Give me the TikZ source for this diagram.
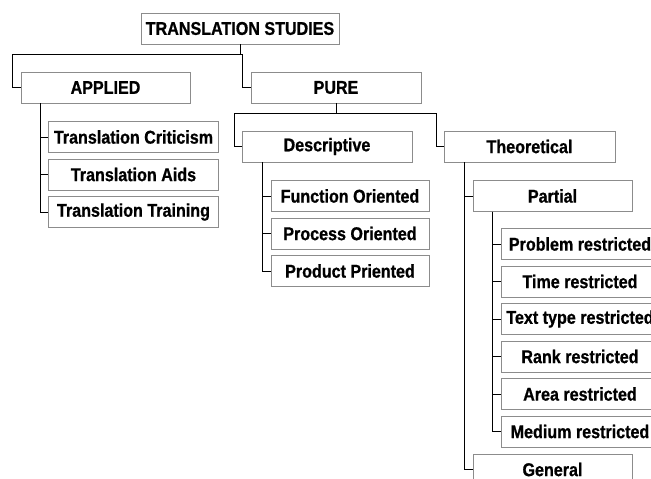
\documentclass[tikz,border=0pt]{standalone}
\usepackage{fontspec}
\setmainfont{Liberation Sans}
\newfontfamily\boxfont{Liberation Sans}[FakeStretch=0.87, BoldFeatures={FakeBold=0.8}]
\usepackage{tikz}
\definecolor{boxgray}{RGB}{140,140,140}

\begin{document}
\begin{tikzpicture}
    [x=1pt, y=-1pt,
     tree box/.style={draw=boxgray, line width=0.9pt, fill=white, inner sep=0pt,
       minimum height=31pt, font=\boxfont\fontsize{18.5}{20}\selectfont\bfseries},
     tree line/.style={draw=black, line width=0.8pt}]
    \useasboundingbox[clip] (0, 0) rectangle (651, 479);
    \node[tree box, minimum width=198pt] (ts) at (240, 28.5) {TRANSLATION STUDIES};
    \node[tree box, minimum width=169pt] (applied) at (105.5, 87.5) {APPLIED};
    \node[tree box, minimum width=170pt] (pure) at (336, 87.5) {PURE};
    \node[tree box, minimum width=170pt] (crit) at (133.5, 137) {Translation Criticism};
    \node[tree box, minimum width=170pt] (aids) at (133.5, 174.5) {Translation Aids};
    \node[tree box, minimum width=170pt] (train) at (133.5, 212) {Translation Training};
    \node[tree box, minimum width=170pt] (desc) at (327, 146.5) {Descriptive};
    \node[tree box, minimum width=171pt] (theo) at (529.5, 146.5) {Theoretical};
    \node[tree box, minimum width=158pt] (func) at (350, 196) {Function Oriented};
    \node[tree box, minimum width=158pt] (proc) at (350, 233.5) {Process Oriented};
    \node[tree box, minimum width=158pt] (prod) at (350, 271) {Product Priented};
    \node[tree box, minimum width=159pt] (partial) at (552.5, 196) {Partial};
    \node[tree box, minimum width=158pt] (problem) at (580, 244) {Problem restricted};
    \node[tree box, minimum width=158pt] (time) at (580, 281.5) {Time restricted};
    \node[tree box, minimum width=158pt] (texttype) at (580, 319) {Text type restricted};
    \node[tree box, minimum width=158pt] (rank) at (580, 356.5) {Rank restricted};
    \node[tree box, minimum width=158pt] (area) at (580, 394) {Area restricted};
    \node[tree box, minimum width=158pt] (medium) at (580, 431.5) {Medium restricted};
    \node[tree box, minimum width=159pt] (general) at (552.5, 469.5) {General};
    \draw[tree line] (applied.west) -- ++(-8, 0) |- ([yshift=-9.5pt]ts.south) -- (ts.south);
    \draw[tree line] (pure.west) -- ++(-8, 0) |- ([yshift=-9.5pt]ts.south);
    \foreach \kid in {crit, aids, train}
      \draw[tree line] ([xshift=20pt]applied.south west) |- (\kid.west);
    \draw[tree line] (desc.west) -- ++(-7, 0) |- ([yshift=-9.5pt]pure.south) -- (pure.south);
    \draw[tree line] (theo.west) -- ++(-7, 0) |- ([yshift=-9.5pt]pure.south);
    \foreach \kid in {func, proc, prod}
      \draw[tree line] ([xshift=21pt]desc.south west) |- (\kid.west);
    \foreach \kid in {partial, general}
      \draw[tree line] ([xshift=21pt]theo.south west) |- (\kid.west);
    \foreach \kid in {problem, time, texttype, rank, area, medium}
      \draw[tree line] ([xshift=19.5pt]partial.south west) |- (\kid.west);
  \end{tikzpicture}
\end{document}
